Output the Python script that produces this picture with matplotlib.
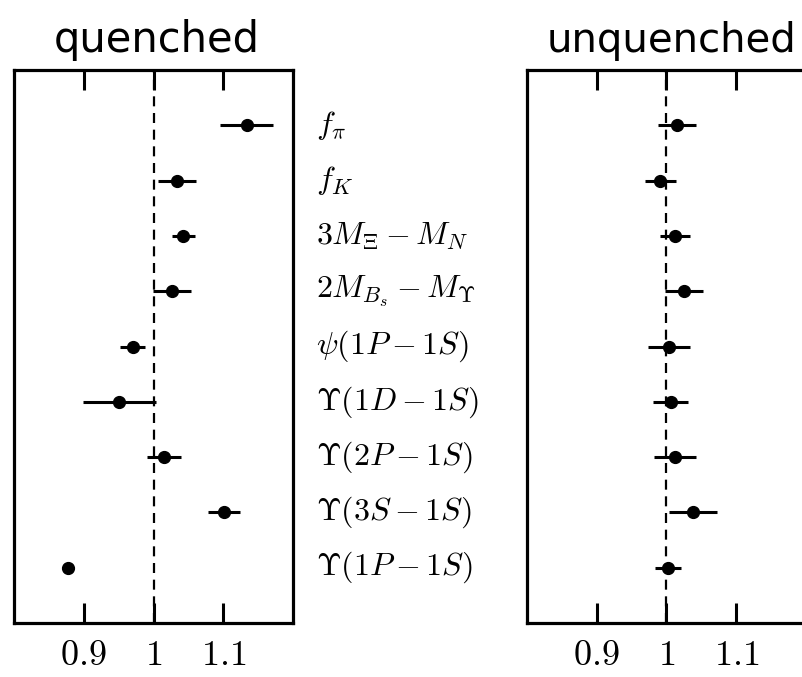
import matplotlib
matplotlib.use("Agg")
import matplotlib.pyplot as plt
import numpy as np

plt.rcParams['mathtext.fontset'] = 'cm'

# observables, top to bottom
labels = [r'$f_\pi$', r'$f_K$', r'$3M_\Xi - M_N$', r'$2M_{B_s} - M_\Upsilon$',
          r'$\psi(1P - 1S)$', r'$\Upsilon(1D - 1S)$', r'$\Upsilon(2P - 1S)$',
          r'$\Upsilon(3S - 1S)$', r'$\Upsilon(1P - 1S)$']

# ratio lattice / experiment
quenched = [1.134, 1.034, 1.043, 1.027, 0.970, 0.951, 1.015, 1.101, 0.878]
quenched_err = [0.038, 0.027, 0.017, 0.027, 0.018, 0.052, 0.024, 0.023, 0.004]

unquenched = [1.015, 0.991, 1.012, 1.025, 1.004, 1.006, 1.012, 1.038, 1.002]
unquenched_err = [0.027, 0.022, 0.022, 0.027, 0.030, 0.025, 0.030, 0.035, 0.019]

tick_vals = [0.9, 1.0, 1.1]
tick_text = ['$0.9$', '$1$', '$1.1$']

ypos = np.arange(len(labels))[::-1]

fig = plt.figure(figsize=(8.03, 6.77), dpi=100)
ax1 = fig.add_axes([14/803, 54/677, 279/803, 553/677])
ax2 = fig.add_axes([527/803, 54/677, 279/803, 553/677])


def panel(ax, vals, errs):
    ax.axvline(1.0, color='k', lw=1.6, ls=(0, (4.5, 3)), zorder=1)
    ax.errorbar(vals, ypos, xerr=errs, fmt='o', color='k', ms=8.5,
                elinewidth=2.2, capsize=0, zorder=3)
    ax.set_xlim(0.8, 1.2)
    ax.set_ylim(-1, 9)
    ax.set_yticks([])
    ax.set_xticks(tick_vals, labels=tick_text)
    ax.tick_params(axis='x', direction='in', top=True, length=14.5,
                   width=2.2, labelsize=26, pad=11)
    for s in ax.spines.values():
        s.set_linewidth(2.3)


panel(ax1, quenched, quenched_err)
panel(ax2, unquenched, unquenched_err)

for y, lab in zip(ypos, labels):
    ax1.text(1.083, y, lab, transform=ax1.get_yaxis_transform(),
             ha='left', va='center', fontsize=23)

fig.text(157/803, 1 - 52/677, 'quenched', ha='center', va='baseline',
         fontsize=30)
fig.text(672/803, 1 - 52/677, 'unquenched', ha='center', va='baseline',
         fontsize=29)

fig.savefig('out.png', dpi=100)
